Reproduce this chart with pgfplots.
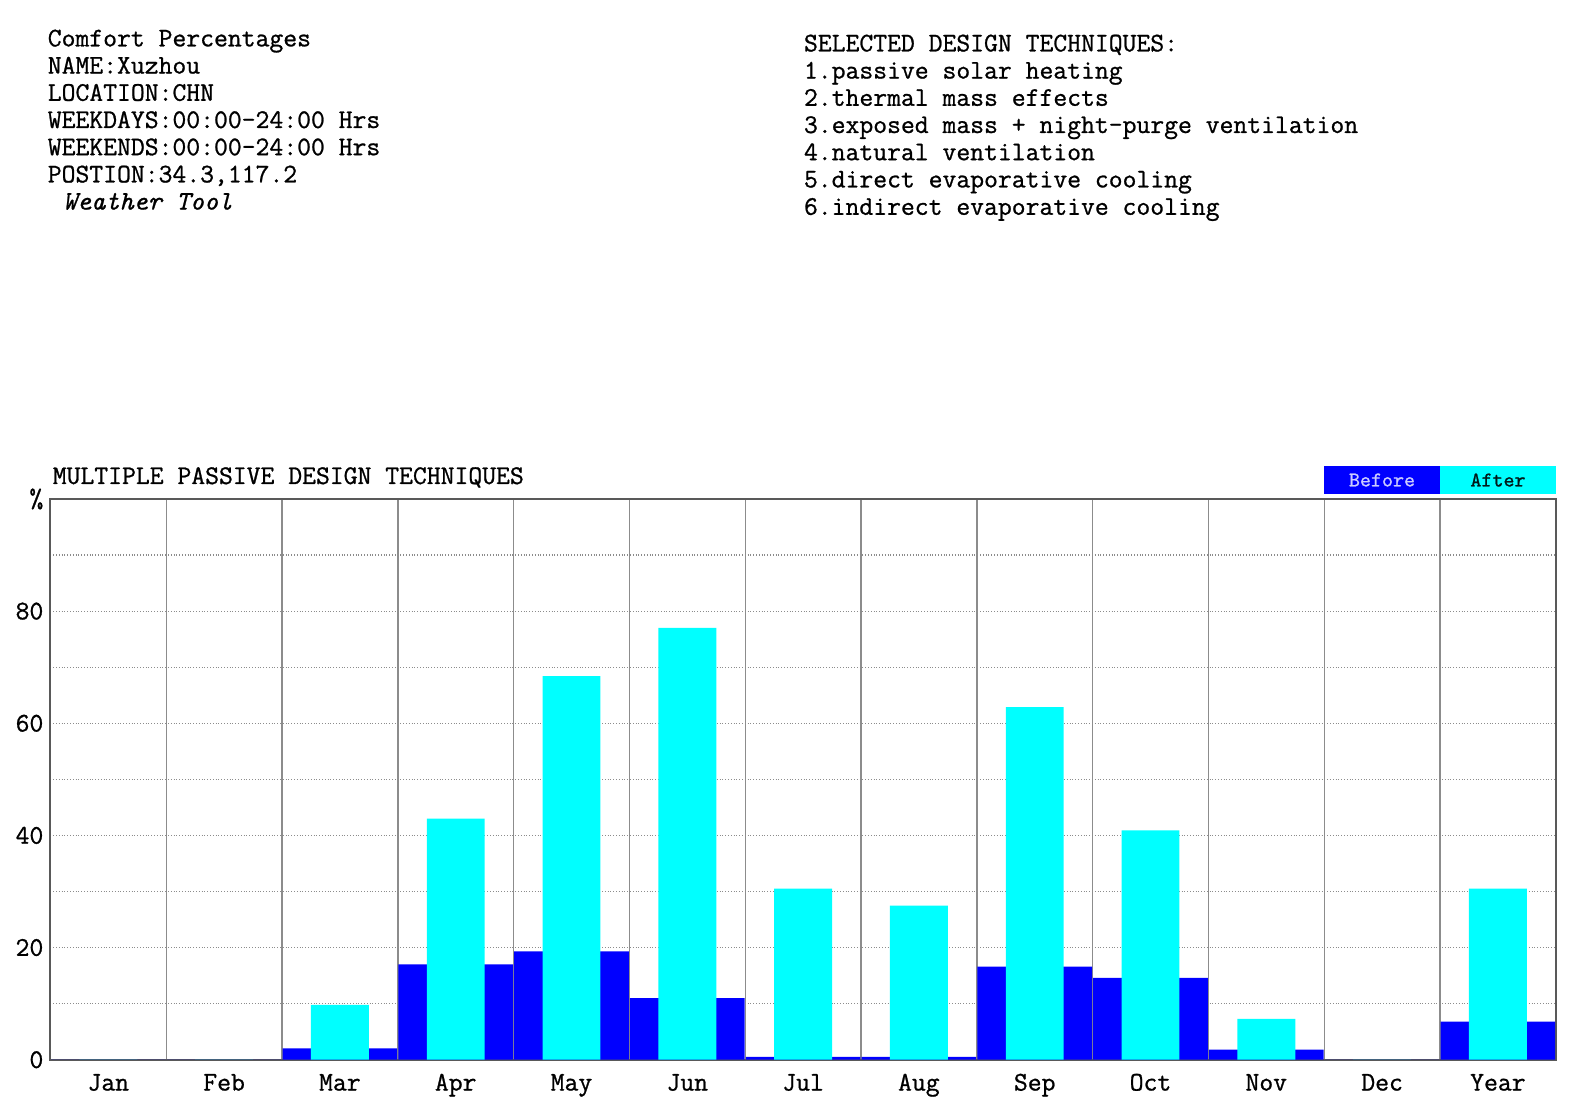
\documentclass[border=0pt]{standalone}
\usepackage{fontspec}
\setmonofont[FakeBold=0.9]{Latin Modern Mono}
\usepackage{pgfplots}
\pgfplotsset{compat=1.18}
\definecolor{befc}{RGB}{0,0,255}
\definecolor{aftc}{RGB}{0,255,255}
\newcommand{\reffont}{\ttfamily\fontsize{13.45}{13.6}\selectfont}

\begin{document}
\begin{tikzpicture}
\path[use as bounding box] (0pt,0pt) rectangle (790.5pt,555pt);

% header, left
\begin{scope}[every node/.style={anchor=base west, inner sep=0pt, font=\reffont}]
\node at (23.7pt,531.8pt) {Comfort Percentages};
\node at (23.7pt,518.2pt) {NAME:Xuzhou};
\node at (23.7pt,504.6pt) {LOCATION:CHN};
\node at (23.7pt,491.0pt) {WEEKDAYS:00:00-24:00 Hrs};
\node at (23.7pt,477.4pt) {WEEKENDS:00:00-24:00 Hrs};
\node at (23.7pt,463.8pt) {POSTION:34.3,117.2};
\node at (31.3pt,450.2pt) {\itshape Weather Tool};
% header, right
\node at (401.8pt,529.3pt) {SELECTED DESIGN TECHNIQUES:};
\node at (401.8pt,515.7pt) {1.passive solar heating};
\node at (401.8pt,502.1pt) {2.thermal mass effects};
\node at (401.8pt,488.5pt) {3.exposed mass + night-purge ventilation};
\node at (401.8pt,474.9pt) {4.natural ventilation};
\node at (401.8pt,461.3pt) {5.direct evaporative cooling};
\node at (401.8pt,447.6pt) {6.indirect evaporative cooling};
\node at (26.2pt,313pt) {MULTIPLE PASSIVE DESIGN TECHNIQUES};
\end{scope}

% legend boxes
\fill[befc] (662pt,308pt) rectangle (720pt,322pt);
\fill[aftc] (720pt,308pt) rectangle (778pt,322pt);
\node[font=\ttfamily\fontsize{10.5}{11}\selectfont, text=blue!20!white] at (691pt,315pt) {Before};
\node[font=\ttfamily\fontsize{10.5}{11}\selectfont, text=black!80!teal] at (749pt,315pt) {After};

\begin{axis}[
    at={(25.2pt,25.15pt)}, anchor=south west,
    scale only axis,
    width=752.7pt, height=280.35pt,
    xmin=-0.5, xmax=12.5,
    ymin=0, ymax=100,
    xtick={0,...,12},
    xticklabels={Jan,Feb,Mar,Apr,May,Jun,Jul,Aug,Sep,Oct,Nov,Dec,Year},
    ytick={0,20,...,100},
    yticklabels={\texttt{0},\texttt{20},\texttt{40},\texttt{60},\texttt{80},\texttt{\%}},
    minor xtick={0.5,1.5,...,11.5},
    minor ytick={10,30,...,90},
    xminorgrids=true, ymajorgrids=true, yminorgrids=true,
    minor x grid style={black!45, line width=0.7pt, solid},
    major y grid style={black!45, densely dotted, line width=0.6pt},
    minor y grid style={black!45, densely dotted, line width=0.6pt},
    major tick length=0pt, minor tick length=0pt,
    axis line style={black!65, line width=1pt},
    tick label style={font=\reffont},
    xticklabel style={text height=1.6ex, text depth=0.4ex, yshift=-5pt},
]
\addplot[ybar, bar width=0.99, bar shift=0pt, fill=befc, draw=none] coordinates {
    (0,0) (1,0) (2,2) (3,17) (4,19.3) (5,11) (6,0.5) (7,0.5)
    (8,16.6) (9,14.6) (10,1.8) (11,0) (12,6.8)};
\addplot[ybar, bar width=0.5, bar shift=0pt, fill=aftc, draw=none] coordinates {
    (0,0) (1,0) (2,9.8) (3,43) (4,68.4) (5,77) (6,30.5) (7,27.5)
    (8,62.9) (9,40.9) (10,7.3) (11,0) (12,30.5)};
\end{axis}
\end{tikzpicture}
\end{document}
